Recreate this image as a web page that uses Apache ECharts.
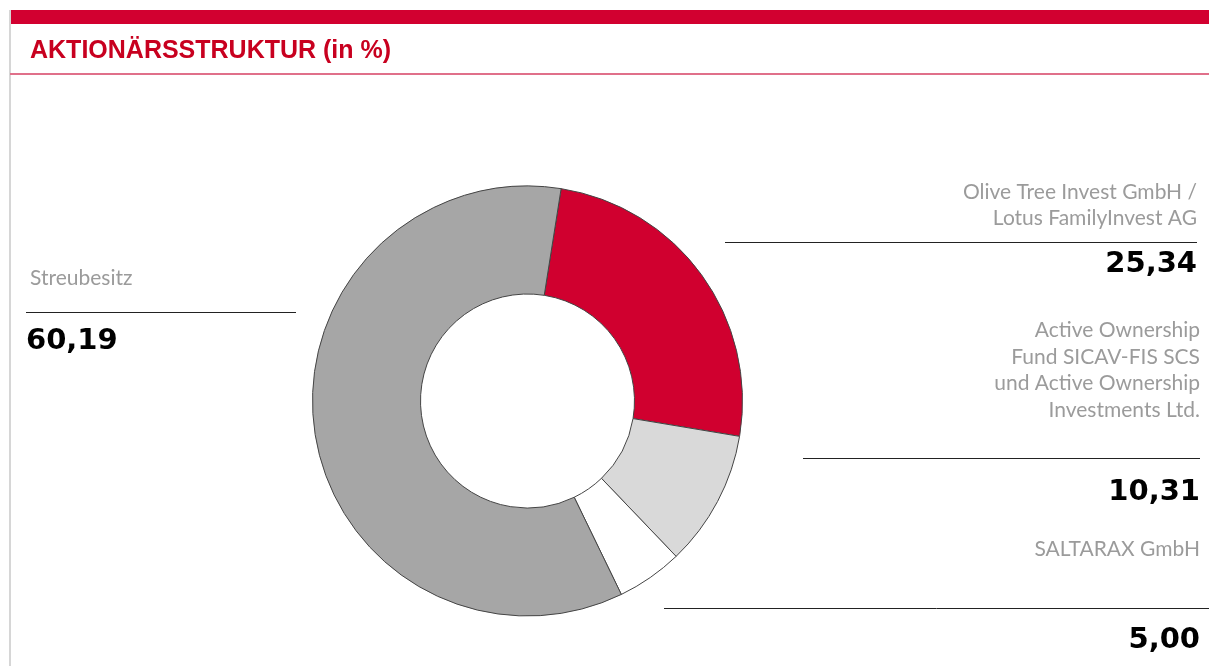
<!DOCTYPE html>
<html>
<head>
<meta charset="utf-8">
<script src="https://cdn.jsdelivr.net/npm/echarts@6/dist/echarts.min.js"></script>
<style>
  html, body { margin: 0; padding: 0; background: #fff; }
  #chart { width: 1209px; height: 666px; }
</style>
</head>
<body>
<div id="chart"></div>
<script>
// Aktionärsstruktur in Prozent (Reihenfolge im Uhrzeigersinn)
const shareholders = [
  "Olive Tree Invest GmbH /\nLotus FamilyInvest AG",
  "Active Ownership\nFund SICAV-FIS SCS\nund Active Ownership\nInvestments Ltd.",
  "SALTARAX GmbH",
  "Streubesitz"
];
const shares = [25.34, 10.31, 5.00, 60.19];
const sliceColors = ["#d0002f", "#d9d9d9", "#ffffff", "#a6a6a6"];

const chartDom = document.getElementById("chart");
const myChart = echarts.init(chartDom);

// Zahl im deutschen Format
function fmt(v) {
  return v.toFixed(2).replace(".", ",");
}

const labelFont = '21px Lato, "Noto Sans", sans-serif';
const valueFont = 'bold 29px "DejaVu Sans", sans-serif';

// label blocks: name, trenner linie, wert
function block(i, nameX, nameY, align, lineX1, lineX2, lineY, valX, valY) {
  return [
    {
      type: "text", x: nameX, y: nameY, silent: true,
      style: {
        text: shareholders[i], fill: "#9b9b9b", font: labelFont,
        textAlign: align, textVerticalAlign: "middle", lineHeight: 26.5
      }
    },
    {
      type: "line", silent: true,
      shape: { x1: lineX1, y1: lineY, x2: lineX2, y2: lineY },
      style: { stroke: "#222", lineWidth: 1 }
    },
    {
      type: "text", x: valX, y: valY, silent: true,
      style: {
        text: fmt(shares[i]), fill: "#000", font: valueFont,
        textAlign: align, textVerticalAlign: "middle"
      }
    }
  ];
}

let option = {
  animation: false,
  title: {
    text: "AKTIONÄRSSTRUKTUR (in %)",
    left: 25,
    top: 34,
    textStyle: {
      color: "#c8001f",
      fontSize: 25,
      fontWeight: "bold",
      fontFamily: '"Liberation Sans", Arial, sans-serif'
    }
  },
  graphic: [
    // rahmen
    { type: "rect", silent: true, shape: { x: 9, y: 10, width: 1200, height: 14 }, style: { fill: "#d20030" } },
    { type: "line", silent: true, shape: { x1: 10, y1: 10, x2: 10, y2: 666 }, style: { stroke: "#d6d6d6", lineWidth: 2 } },
    { type: "line", silent: true, shape: { x1: 10, y1: 74, x2: 1209, y2: 74 }, style: { stroke: "#e0708a", lineWidth: 2 } },
    ...block(3, 30, 278, "left", 26, 296, 312.5, 26, 341),
    ...block(0, 1197, 205, "right", 725, 1197, 242.5, 1197, 264),
    ...block(1, 1200, 370, "right", 803, 1200, 458.5, 1200, 492),
    ...block(2, 1200, 549, "right", 664, 1209, 608.5, 1200, 640)
  ],
  series: [
    {
      type: "pie",
      center: [527.5, 401],
      radius: [107, 215],
      startAngle: 81,
      clockwise: true,
      silent: true,
      label: { show: false },
      labelLine: { show: false },
      itemStyle: { borderColor: "#444", borderWidth: 1 },
      data: shares.map((v, i) => ({
        name: shareholders[i],
        value: v,
        itemStyle: { color: sliceColors[i] }
      }))
    }
  ]
};

option && myChart.setOption(option);
</script>
</body>
</html>
